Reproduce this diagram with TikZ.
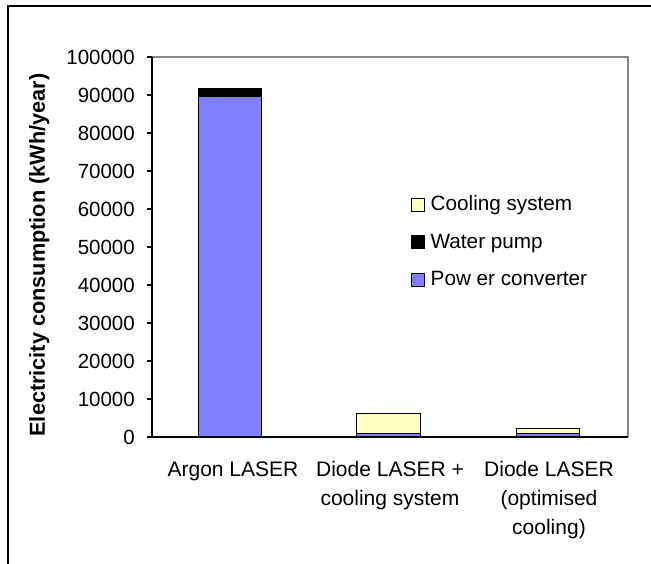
\documentclass[tikz,border=0pt]{standalone}
\usepackage{fontspec}
\setmainfont{Liberation Sans}
\definecolor{pcblue}{RGB}{128,128,255}
\definecolor{csyellow}{RGB}{255,255,192}
\definecolor{bordergray}{RGB}{136,136,136}
\begin{document}
\begin{tikzpicture}[x=1pt,y=-1pt,
  font=\fontsize{21}{29}\selectfont,
  frameline/.style={line width=2pt},
  axisline/.style={line width=1.5pt},
  plotborder/.style={draw=bordergray,line width=1.6pt},
  barseg/.style={draw=black,line width=1pt},
  ticklabel/.style={anchor=base east,inner sep=0pt,font=\fontsize{20.5}{24}\selectfont},
  catlabel/.style={anchor=base,inner sep=0pt,align=center},
  legtext/.style={anchor=base west,inner sep=0pt,font=\fontsize{20.7}{24}\selectfont},
  legbox/.style={draw=black,line width=0.9pt,minimum size=13pt,inner sep=0pt}]
\useasboundingbox (0,0) rectangle (651,564);
% outer frame (only top and left visible)
\draw[frameline] (8,564) -- (8,6.5) -- (651,6.5);
% plot border
\draw[plotborder] (152,57) -- (627.7,57) -- (627.7,437);
% bars: y(v) = 437 - 0.038 v
\draw[barseg,fill=pcblue] (198.3,437) rectangle (261,96.5);
\draw[barseg,fill=black] (198.3,96.5) rectangle (261,88.2);
\draw[barseg,fill=pcblue] (356.7,437) rectangle (420,433.2);
\draw[barseg,fill=csyellow] (356.7,433.2) rectangle (420,413.1);
\draw[barseg,fill=pcblue] (516,437) rectangle (579.3,433.2);
\draw[barseg,fill=csyellow] (516,433.2) rectangle (579.3,428.6);
% axes
\draw[axisline] (152,57) -- (152,437) -- (627.7,437);
\foreach \k in {0,...,10}{
  \draw[axisline] (146.5,{437-38*\k}) -- (152,{437-38*\k});
}
\foreach \k/\lab in {0/0,1/10000,2/20000,3/30000,4/40000,5/50000,6/60000,7/70000,8/80000,9/90000,10/100000}{
  \node[ticklabel] (t\k) at (135,{444.2-38*\k}) {\lab};
}
% axis title
\node[rotate=90,anchor=base,inner sep=0pt,font=\fontsize{21.7}{24}\selectfont\bfseries] (ytitle) at (45,255) {Electricity consumption (kWh/year)};
% category labels (base anchor = baseline of last line)
\node[catlabel] (c1) at (233,476) {Argon LASER};
\node[catlabel] (c2) at (390,505) {Diode LASER +\\cooling system};
\node[catlabel] (c3) at (549,534) {Diode LASER\\(optimised\\cooling)};
% legend
\node[legbox,fill=csyellow] (lb1) at (417.5,204.5) {};
\node[legbox,fill=black] (lb2) at (417.5,242) {};
\node[legbox,fill=pcblue] (lb3) at (417.5,279.5) {};
\node[legtext] (lt1) at (430.5,211) {Cooling system};
\node[legtext] (lt2) at (430.5,248.5) {Water pump};
\node[legtext] (lt3) at (430.5,286) {Pow er converter};
\end{tikzpicture}
\end{document}
